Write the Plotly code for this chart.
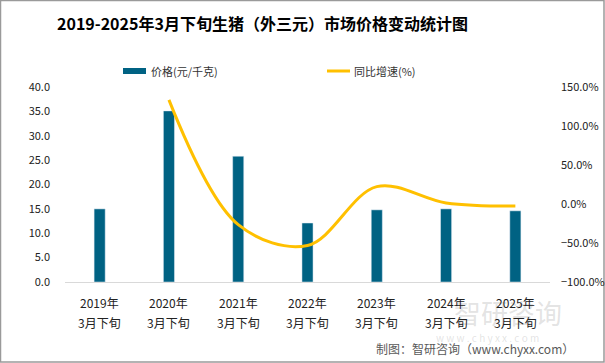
import plotly.graph_objects as go

categories = ["2019年3月下旬", "2020年3月下旬", "2021年3月下旬", "2022年3月下旬",
              "2023年3月下旬", "2024年3月下旬", "2025年3月下旬"]
price = [15.0, 35.1, 25.8, 12.1, 14.8, 15.0, 14.6]
growth = [None, 133.5, -26.5, -53.1, 22.3, 1.4, -2.7]

BAR = "#006283"
LINE = "#FFC000"
FONT = "Noto Sans CJK SC"

W, H = 605, 363
L, R, T, B = 65, 55, 87, 81
PW, PH = W - L - R, H - T - B

def px(x):
    return (x - L) / PW

def py(y):
    return (H - B - y) / PH

fig = go.Figure()
fig.add_trace(go.Bar(x=categories, y=price, name="价格(元/千克)", marker_color=BAR,
                     width=0.16, showlegend=False, yaxis="y", hoverinfo="skip"))
fig.add_trace(go.Scatter(x=categories, y=growth, name="同比增速(%)", mode="lines",
                         line=dict(color=LINE, width=3, shape="spline", smoothing=1.0),
                         connectgaps=False, showlegend=False, yaxis="y2", hoverinfo="skip"))

tickfont = dict(family=FONT, size=11, color="#222")
fig.update_layout(
    width=W, height=H, autosize=False,
    margin=dict(l=L, r=R, t=T, b=B, autoexpand=False),
    paper_bgcolor="white", plot_bgcolor="white",
    xaxis=dict(showgrid=False, showline=True, linecolor="#d9d9d9", linewidth=1,
               ticks="", showticklabels=False, automargin=False),
    yaxis=dict(range=[0, 40], dtick=5, tickformat=".1f", showgrid=False, zeroline=False,
               tickfont=tickfont, ticks="", ticklabelstandoff=14, automargin=False),
    yaxis2=dict(range=[-100, 150], dtick=50, tickformat=".1f", ticksuffix="%",
                overlaying="y", side="right", showgrid=False, zeroline=False,
                tickfont=tickfont, ticks="", ticklabelstandoff=10, automargin=False),
    font=dict(family=FONT),
)

shapes = [
    dict(type="rect", xref="paper", yref="paper", x0=px(123), x1=px(146), y0=py(74), y1=py(68),
         fillcolor=BAR, line=dict(width=0)),
    dict(type="line", xref="paper", yref="paper", x0=px(327), x1=px(350), y0=py(71), y1=py(71),
         line=dict(color=LINE, width=3)),
    dict(type="rect", xref="paper", yref="paper", x0=px(0.5), x1=px(604), y0=py(0.5), y1=py(362),
         line=dict(color="#9a9a9a", width=1.5), fillcolor="rgba(0,0,0,0)", layer="below"),
]
annotations = [
    dict(text="<b>2019-2025年3月下旬生猪（外三元）市场价格变动统计图</b>", xref="paper", yref="paper",
         x=px(262), y=py(23), showarrow=False, font=dict(family=FONT, size=16, color="#000"),
         xanchor="center", yanchor="middle"),
    dict(text="价格(元/千克)", xref="paper", yref="paper", x=px(149), y=py(71), showarrow=False,
         xanchor="left", yanchor="middle", font=dict(family=FONT, size=11, color="#333")),
    dict(text="同比增速(%)", xref="paper", yref="paper", x=px(352), y=py(71), showarrow=False,
         xanchor="left", yanchor="middle", font=dict(family=FONT, size=11, color="#333")),
    dict(text="智研咨询", xref="paper", yref="paper", x=px(508), y=py(312), showarrow=False,
         xanchor="center", yanchor="middle", font=dict(family=FONT, size=27, color="rgba(160,160,160,0.3)")),
    dict(text="w w w . c h y x x . c o m", xref="paper", yref="paper", x=px(487), y=py(337), showarrow=False,
         xanchor="center", yanchor="middle", font=dict(family=FONT, size=10, color="rgba(160,160,160,0.3)")),
    dict(text="制图：智研咨询（www.chyxx.com）", xref="paper", yref="paper", x=px(576), y=py(348),
         showarrow=False, xanchor="right", yanchor="middle", font=dict(family=FONT, size=12, color="#595959")),
]
for c in categories:
    year, rest = c.split("年", 1)
    annotations.append(dict(text=year + "年", xref="x", yref="paper", x=c, y=py(302), showarrow=False,
                            xanchor="center", yanchor="middle", font=dict(family=FONT, size=12, color="#222")))
    annotations.append(dict(text=rest, xref="x", yref="paper", x=c, y=py(322), showarrow=False,
                            xanchor="center", yanchor="middle", font=dict(family=FONT, size=12, color="#222")))
fig.update_layout(shapes=shapes, annotations=annotations)

fig.write_html("out.html", config={"displayModeBar": False},
               post_script="document.body.style.margin='0px';")
